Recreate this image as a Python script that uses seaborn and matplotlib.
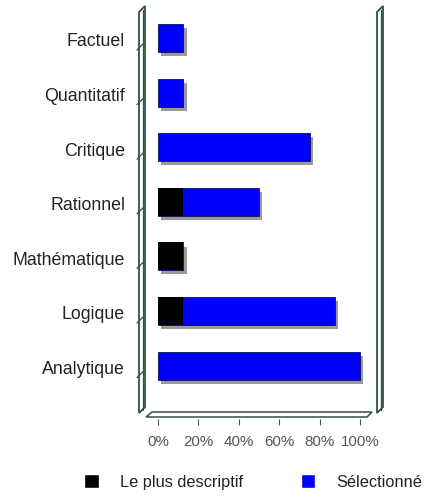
import numpy as np
import pandas as pd
import matplotlib
matplotlib.use("Agg")
import matplotlib.pyplot as plt
import matplotlib.patheffects as pe
from matplotlib.patches import Patch, Polygon
import seaborn as sns

categories = ['Factuel', 'Quantitatif', 'Critique', 'Rationnel', 'Mathématique', 'Logique', 'Analytique']
plus_descriptif = [0, 0, 0, 12.5, 12.5, 12.5, 0]
selectionne = [12.5, 12.5, 75, 37.5, 0, 75, 100]
xticks = [0, 20, 40, 60, 80, 100]
xtick_labels = ['0%', '20%', '40%', '60%', '80%', '100%']
legend_labels = ['Le plus descriptif', 'Sélectionné']

df = pd.DataFrame({'cat': categories, 'plus': plus_descriptif, 'sel': selectionne})
df['total'] = df['plus'] + df['sel']

sns.set_style('white')
plt.rcParams['font.family'] = ['Liberation Sans', 'DejaVu Sans']

W, H = 430, 504
fig = plt.figure(figsize=(W / 100, H / 100), dpi=100)

# frame overlay in pixel coords (walls + floor)
bg = fig.add_axes([0, 0, 1, 1], zorder=0)
bg.set_xlim(0, W)
bg.set_ylim(H, 0)
bg.axis('off')
wall_col = '#34504b'
for x0 in (139, 377):
    bg.add_patch(Polygon([(x0, 413), (x0, 12), (x0 + 6, 6), (x0 + 6, 407)], closed=True,
                         fill=False, edgecolor=wall_col, lw=1.3))
    bg.plot([x0 + 3.5, x0 + 3.5], [10, 410], color=wall_col, lw=0.9)
bg.add_patch(Polygon([(146, 417), (152, 412), (372, 412), (367, 417)], closed=True,
                     facecolor='white', edgecolor=wall_col, lw=1.1))

ax = fig.add_axes([158 / W, 1 - 411 / H, 202 / W, 404 / H], zorder=1)
ax.set_facecolor('none')

sns.barplot(data=df, x='total', y='cat', orient='h', color='#0000ff', saturation=1,
            width=0.51, edgecolor='#10105a', linewidth=0.6, ax=ax)
n_blue = len(ax.patches)
sns.barplot(data=df, x='plus', y='cat', orient='h', color='black', saturation=1,
            width=0.51, linewidth=0, ax=ax)

shadow = [pe.SimplePatchShadow(offset=(2.4, -3.0), shadow_rgbFace='#9a9a9a', alpha=1), pe.Normal()]
for i, p in enumerate(ax.patches):
    p.set_clip_on(False)
    if i < n_blue:
        p.set_path_effects(shadow)

ax.set_xlim(0, 100)
ax.set_ylim((411 - 38) / 54.6, (7 - 38) / 54.6)
ax.set_xlabel('')
ax.set_ylabel('')
ax.set_yticks([])

for s in ['top', 'right', 'left']:
    ax.spines[s].set_visible(False)
ax.spines['bottom'].set_position(('outward', 5.8))
ax.spines['bottom'].set_visible(False)
ax.set_xticks(xticks)
ax.set_xticklabels(xtick_labels)
ax.tick_params(axis='x', direction='out', length=4.3, width=0.8, color='#555555',
               labelsize=10.9, labelcolor='#555555', pad=7, bottom=True)

# category labels + little slanted ticks on the left wall
for i, c in enumerate(categories):
    ax.text(-16.3, i + 0.07, c, ha='right', va='center', fontsize=12.8, color='#222222', clip_on=False)
    ax.plot([-10.4, -7.4], [i + 0.22, i + 0.11], color=wall_col, lw=0.9, clip_on=False)

handles = [Patch(facecolor='black'), Patch(facecolor='#0000ff')]
fig.legend(handles, legend_labels, loc='center left', bbox_to_anchor=(84 / W, 1 - 482 / H),
           ncol=2, frameon=False, fontsize=11.8, handlelength=0.9, handleheight=0.9,
           handletextpad=1.3, columnspacing=3.5, borderpad=0, borderaxespad=0,
           labelcolor='#222222')

fig.savefig('out.png', dpi=100)
